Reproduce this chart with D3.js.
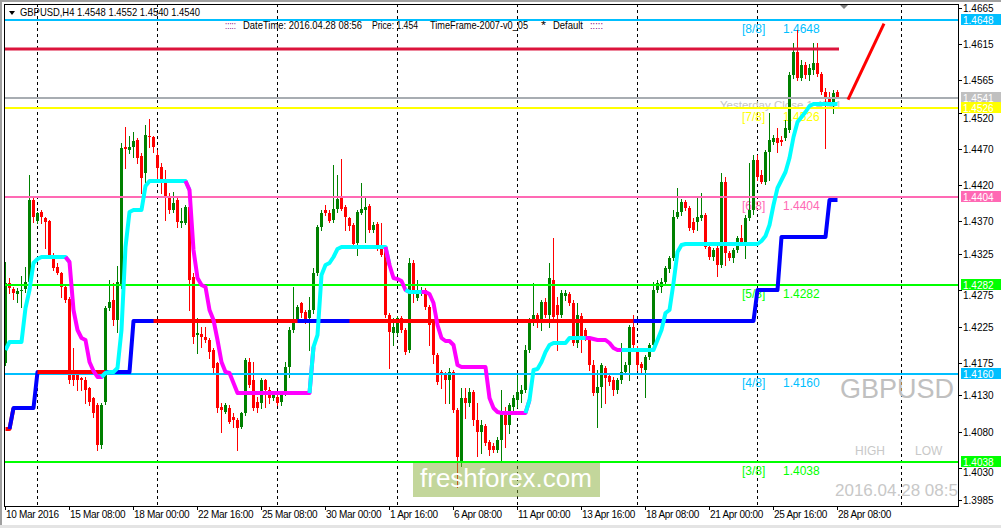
<!DOCTYPE html>
<html>
<head>
<meta charset="utf-8">
<script src="https://cdn.jsdelivr.net/npm/d3@7"></script>
<style>
  html, body { margin: 0; padding: 0; background: #fff; }
  svg { display: block; font-family: "Liberation Sans", Arial, sans-serif; }
</style>
</head>
<body>
<svg id="chart" width="1001" height="528"></svg>
<script>
"use strict";

// Data: GBPUSD H4, 10 Mar 16:00 .. 28 Apr 08:00 ///////////
var opens = [
  1.4175,1.4285,1.4277,1.4270,1.4274,1.4277,1.4286,1.4400,1.4371,1.4383,
  1.4375,1.4371,1.4321,1.4307,1.4299,1.4280,1.4263,1.4158,1.4158,1.4154,
  1.4151,1.4140,1.4126,1.4117,1.4062,1.4121,1.4251,1.4262,1.4234,1.4282,
  1.4473,1.4469,1.4473,1.4482,1.4460,1.4437,1.4488,1.4487,1.4462,1.4445,
  1.4427,1.4404,1.4386,1.4400,1.4368,1.4368,1.4390,1.4293,1.4213,1.4215,
  1.4211,1.4206,1.4193,1.4175,1.4114,1.4107,1.4113,1.4100,1.4096,1.4086,
  1.4106,1.4176,1.4151,1.4121,1.4119,1.4151,1.4137,1.4126,1.4128,1.4121,
  1.4133,1.4169,1.4220,1.4234,1.4257,1.4245,1.4237,1.4248,1.4299,1.4362,
  1.4386,1.4382,1.4372,1.4387,1.4402,1.4390,1.4375,1.4365,1.4340,1.4382,
  1.4386,1.4391,1.4358,1.4366,1.4338,1.4331,1.4241,1.4216,1.4216,1.4237,
  1.4220,1.4193,1.4313,1.4264,1.4271,1.4275,1.4252,1.4230,1.4186,1.4162,
  1.4158,1.4151,1.4162,1.4110,1.4038,1.4126,1.4119,1.4135,1.4096,1.4079,
  1.4088,1.4066,1.4060,1.4055,1.4068,1.4103,1.4089,1.4114,1.4124,1.4132,
  1.4137,1.4193,1.4230,1.4241,1.4234,1.4259,1.4241,1.4289,1.4255,1.4241,
  1.4267,1.4270,1.4257,1.4202,1.4240,1.4220,1.4206,1.4172,1.4133,1.4142,
  1.4168,1.4157,1.4151,1.4137,1.4151,1.4162,1.4172,1.4224,1.4195,1.4173,
  1.4165,1.4183,1.4200,1.4275,1.4280,1.4286,1.4304,1.4320,1.4376,1.4383,
  1.4397,1.4389,1.4369,1.4369,1.4375,1.4379,1.4335,1.4321,1.4333,1.4310,
  1.4424,1.4326,1.4320,1.4331,1.4347,1.4340,1.4375,1.4386,1.4455,1.4434,
  1.4424,1.4466,1.4480,1.4485,1.4482,1.4485,1.4496,1.4572,1.4604,1.4568,
  1.4586,1.4572,1.4579,1.4589,1.4573,1.4549,1.4540,1.4533,1.4548
];
var highs = [
  1.4314,1.4292,1.4280,1.4278,1.4295,1.4307,1.4434,1.4404,1.4383,1.4386,
  1.4376,1.4372,1.4326,1.4313,1.4300,1.4282,1.4266,1.4195,1.4165,1.4155,
  1.4155,1.4142,1.4128,1.4119,1.4119,1.4253,1.4289,1.4285,1.4309,1.4478,
  1.4500,1.4488,1.4493,1.4485,1.4464,1.4503,1.4511,1.4488,1.4469,1.4451,
  1.4441,1.4409,1.4411,1.4404,1.4389,1.4393,1.4393,1.4299,1.4237,1.4224,
  1.4224,1.4209,1.4195,1.4176,1.4119,1.4119,1.4117,1.4106,1.4099,1.4107,
  1.4182,1.4182,1.4176,1.4128,1.4154,1.4153,1.4142,1.4135,1.4131,1.4133,
  1.4176,1.4224,1.4280,1.4255,1.4259,1.4248,1.4266,1.4306,1.4365,1.4386,
  1.4393,1.4386,1.4448,1.4434,1.4456,1.4393,1.4376,1.4368,1.4386,1.4423,
  1.4402,1.4394,1.4369,1.4369,1.4368,1.4333,1.4244,1.4237,1.4240,1.4240,
  1.4223,1.4320,1.4317,1.4289,1.4280,1.4278,1.4255,1.4231,1.4188,1.4165,
  1.4162,1.4168,1.4165,1.4113,1.4140,1.4140,1.4140,1.4137,1.4119,1.4096,
  1.4091,1.4068,1.4064,1.4073,1.4137,1.4114,1.4119,1.4131,1.4158,1.4144,
  1.4200,1.4237,1.4285,1.4244,1.4262,1.4264,1.4313,1.4347,1.4266,1.4275,
  1.4275,1.4273,1.4262,1.4257,1.4244,1.4223,1.4211,1.4179,1.4165,1.4175,
  1.4171,1.4161,1.4155,1.4154,1.4202,1.4176,1.4227,1.4241,1.4198,1.4176,
  1.4186,1.4202,1.4286,1.4289,1.4292,1.4309,1.4322,1.4386,1.4416,1.4401,
  1.4400,1.4391,1.4375,1.4404,1.4409,1.4382,1.4338,1.4333,1.4338,1.4437,
  1.4431,1.4329,1.4333,1.4350,1.4365,1.4379,1.4451,1.4462,1.4462,1.4441,
  1.4469,1.4520,1.4489,1.4499,1.4488,1.4510,1.4576,1.4616,1.4634,1.4593,
  1.4590,1.4587,1.4616,1.4616,1.4576,1.4554,1.4549,1.4551,1.4552
];
var lows = [
  1.4172,1.4271,1.4263,1.4259,1.4252,1.4273,1.4285,1.4369,1.4368,1.4368,
  1.4333,1.4320,1.4303,1.4298,1.4266,1.4259,1.4147,1.4144,1.4137,1.4137,
  1.4119,1.4117,1.4100,1.4055,1.4057,1.4118,1.4248,1.4227,1.4217,1.4278,
  1.4444,1.4464,1.4459,1.4451,1.4409,1.4424,1.4473,1.4466,1.4427,1.4409,
  1.4372,1.4382,1.4383,1.4362,1.4362,1.4366,1.4248,1.4202,1.4188,1.4197,
  1.4204,1.4182,1.4162,1.4107,1.4079,1.4106,1.4092,1.4086,1.4055,1.4085,
  1.4103,1.4142,1.4110,1.4107,1.4113,1.4114,1.4119,1.4124,1.4117,1.4117,
  1.4131,1.4155,1.4217,1.4231,1.4238,1.4230,1.4193,1.4244,1.4296,1.4358,
  1.4379,1.4369,1.4369,1.4383,1.4386,1.4358,1.4358,1.4336,1.4324,1.4380,
  1.4342,1.4355,1.4355,1.4331,1.4322,1.4238,1.4168,1.4200,1.4213,1.4217,
  1.4187,1.4190,1.4259,1.4262,1.4269,1.4249,1.4200,1.4175,1.4146,1.4140,
  1.4119,1.4119,1.4107,1.4004,1.4032,1.4099,1.4115,1.4089,1.4046,1.4050,
  1.4062,1.4048,1.4052,1.4052,1.4039,1.4059,1.4078,1.4110,1.4114,1.4121,
  1.4135,1.4190,1.4227,1.4224,1.4220,1.4238,1.4224,1.4234,1.4193,1.4238,
  1.4262,1.4255,1.4200,1.4197,1.4190,1.4206,1.4165,1.4131,1.4086,1.4114,
  1.4119,1.4144,1.4131,1.4133,1.4147,1.4160,1.4151,1.4197,1.4165,1.4161,
  1.4128,1.4180,1.4197,1.4273,1.4273,1.4284,1.4300,1.4317,1.4375,1.4379,
  1.4386,1.4358,1.4355,1.4358,1.4372,1.4333,1.4318,1.4317,1.4295,1.4307,
  1.4310,1.4317,1.4314,1.4328,1.4339,1.4320,1.4372,1.4380,1.4427,1.4423,
  1.4422,1.4427,1.4477,1.4466,1.4476,1.4482,1.4493,1.4568,1.4565,1.4565,
  1.4568,1.4565,1.4573,1.4571,1.4546,1.4471,1.4531,1.4520,1.4540
];
var closes = [
  1.4285,1.4278,1.4271,1.4274,1.4275,1.4286,1.4400,1.4376,1.4382,1.4376,
  1.4369,1.4321,1.4306,1.4299,1.4280,1.4262,1.4151,1.4151,1.4151,1.4151,
  1.4137,1.4121,1.4106,1.4062,1.4117,1.4251,1.4259,1.4234,1.4286,1.4471,
  1.4470,1.4473,1.4481,1.4458,1.4430,1.4489,1.4487,1.4473,1.4444,1.4427,
  1.4404,1.4386,1.4395,1.4369,1.4371,1.4390,1.4289,1.4211,1.4216,1.4211,
  1.4206,1.4190,1.4168,1.4113,1.4110,1.4117,1.4093,1.4096,1.4085,1.4106,
  1.4179,1.4144,1.4113,1.4113,1.4151,1.4137,1.4126,1.4133,1.4119,1.4131,
  1.4169,1.4220,1.4234,1.4252,1.4244,1.4234,1.4248,1.4299,1.4362,1.4382,
  1.4382,1.4371,1.4387,1.4401,1.4387,1.4376,1.4364,1.4339,1.4383,1.4387,
  1.4390,1.4358,1.4365,1.4335,1.4324,1.4241,1.4217,1.4224,1.4237,1.4220,
  1.4190,1.4313,1.4271,1.4275,1.4275,1.4252,1.4227,1.4186,1.4148,1.4158,
  1.4151,1.4162,1.4110,1.4045,1.4126,1.4119,1.4135,1.4096,1.4079,1.4089,
  1.4064,1.4055,1.4055,1.4068,1.4106,1.4089,1.4117,1.4126,1.4135,1.4137,
  1.4193,1.4231,1.4241,1.4234,1.4259,1.4241,1.4292,1.4238,1.4241,1.4271,
  1.4271,1.4257,1.4202,1.4241,1.4206,1.4211,1.4172,1.4133,1.4142,1.4172,
  1.4154,1.4148,1.4137,1.4151,1.4162,1.4172,1.4224,1.4200,1.4172,1.4168,
  1.4183,1.4200,1.4275,1.4285,1.4286,1.4306,1.4320,1.4376,1.4383,1.4397,
  1.4389,1.4361,1.4358,1.4376,1.4379,1.4335,1.4321,1.4331,1.4310,1.4424,
  1.4326,1.4320,1.4331,1.4347,1.4340,1.4375,1.4386,1.4455,1.4431,1.4424,
  1.4466,1.4482,1.4485,1.4478,1.4480,1.4499,1.4572,1.4604,1.4568,1.4586,
  1.4572,1.4582,1.4589,1.4573,1.4549,1.4540,1.4533,1.4547,1.4540
];

// Trailing line (cyan while rising, magenta while falling)
var trendLine = [
  1.4193,1.4204,1.4204,1.4204,1.4204,1.4251,1.4275,1.4313,1.4318,1.4321,
  1.4321,1.4321,1.4321,1.4321,1.4321,1.4321,
  1.4314,1.4248,1.4220,1.4209,1.4206,1.4176,1.4164,1.4155,1.4155,
  1.4161,1.4162,1.4162,1.4168,1.4220,1.4335,1.4383,1.4386,1.4386,1.4386,1.4419,
  1.4426,1.4426,1.4426,1.4426,1.4426,1.4426,1.4426,1.4426,1.4426,1.4426,
  1.4413,1.4331,1.4292,1.4282,1.4280,1.4248,1.4234,1.4206,1.4176,1.4162,1.4161,1.4147,
  1.4133,1.4133,1.4133,1.4133,1.4133,1.4133,1.4133,1.4133,1.4133,1.4133,
  1.4133,1.4133,1.4133,1.4133,1.4133,1.4133,1.4133,1.4133,1.4133,
  1.4197,1.4213,1.4296,1.4310,1.4313,1.4321,1.4332,
  1.4335,1.4335,1.4335,1.4335,1.4335,1.4335,1.4335,1.4335,1.4335,1.4335,1.4335,1.4335,
  1.4310,1.4292,1.4291,1.4288,1.4275,
  1.4273,1.4273,1.4273,1.4273,1.4273,
  1.4270,1.4257,1.4227,1.4209,1.4205,1.4205,1.4200,1.4172,
  1.4169,1.4169,1.4169,1.4169,1.4169,1.4169,1.4169,
  1.4126,1.4113,1.4107,
  1.4106,1.4106,1.4106,1.4106,1.4106,1.4106,1.4106,
  1.4124,1.4165,1.4166,1.4176,1.4190,1.4200,
  1.4202,1.4202,1.4202,1.4202,
  1.4209,1.4209,1.4209,1.4209,1.4209,1.4209,
  1.4208,1.4206,1.4206,1.4206,1.4202,1.4195,
  1.4193,1.4193,1.4193,1.4193,1.4193,1.4193,1.4193,1.4193,1.4193,1.4193,
  1.4206,1.4220,1.4244,1.4248,1.4285,1.4328,1.4338,
  1.4339,1.4339,1.4339,1.4339,1.4339,1.4339,1.4339,1.4339,1.4339,1.4339,
  1.4339,1.4339,1.4339,1.4339,1.4339,1.4339,1.4339,1.4339,1.4339,
  1.4343,1.4350,1.4365,1.4393,1.4416,1.4427,1.4438,1.4458,1.4487,1.4507,1.4514,1.4521,1.4529,
  1.4532,1.4532,1.4532,1.4532,1.4532,1.4532,1.4532
];
var trendBreaks = [0, 16, 25, 46, 77, 96, 101, 105, 131, 146, 155];
var trendUp     = [true, false, true, false, true, false, true, false, true, false, true];

// Step level line (blue while rising, red otherwise)
var stepLevels = [1.4084, 1.4113, 1.4162, 1.4233, 1.4275, 1.4349, 1.4400];
var stepStarts = [0, 2, 8, 32, 188, 194, 206];
var stepBreaks = [0, 2, 9, 26, 38, 74, 87, 158];
var stepUp     = [false, true, false, true, false, true, false, true];

// Murrey math levels
var murreyPrices = [1.4648, 1.4526, 1.4404, 1.4282, 1.4160, 1.4038];
var murreyNames  = ["[8/8]", "[7/8]", "[6/8]", "[5/8]", "[4/8]", "[3/8]"];
var murreyColors = ["#00bfff", "#ffff00", "#ff69b4", "#00ff00", "#00bfff", "#00ff00"];

var dayHigh = 1.4608;
var yesterdayClose = 1.4541;
var projection = [[210.75, 1.4538], [219.75, 1.4643]];

// Axes
var priceTicks = [1.4665, 1.4615, 1.4565, 1.4520, 1.4470, 1.4420, 1.4370, 1.4325,
                  1.4275, 1.4225, 1.4175, 1.4130, 1.4080, 1.4030, 1.3985];
var timeTickBars = [0, 16, 32, 48, 64, 80, 96, 112, 128, 144, 160, 176, 192, 208];
var timeTickLabels = ["10 Mar 2016", "15 Mar 08:00", "18 Mar 00:00", "22 Mar 16:00",
  "25 Mar 08:00", "30 Mar 00:00", "1 Apr 16:00", "6 Apr 08:00", "11 Apr 00:00",
  "13 Apr 16:00", "18 Apr 08:00", "21 Apr 00:00", "25 Apr 16:00", "28 Apr 08:00"];
var weekBars = [8, 38, 68, 98, 128, 158, 188, 224];

////////////////////////////////////////////////////////////
var svg = d3.select("#chart"),
    plot = {left: 4, top: 4, right: 958, bottom: 506};

var x = d3.scaleLinear().domain([0, 238]).range([5, 957]);
var y = d3.scaleLinear().domain([1.4038, 1.4648]).range([462, 20]);

var px = function(i) { return Math.round(x(i)); };
var py = function(p) { return Math.round(y(p)); };

// Window frame
svg.append("rect").attr("width", 1001).attr("height", 528).attr("fill", "#fff");
svg.append("rect").attr("x", 0).attr("y", 0).attr("width", 1001).attr("height", 2).attr("fill", "#a0a0a0");
svg.append("rect").attr("x", 0).attr("y", 0).attr("width", 2).attr("height", 528).attr("fill", "#a0a0a0");
svg.append("rect").attr("x", 0).attr("y", 525).attr("width", 1001).attr("height", 3).attr("fill", "#e4e4e4");

svg.append("defs").append("clipPath").attr("id", "plotClip")
  .append("rect")
    .attr("x", plot.left).attr("y", plot.top)
    .attr("width", plot.right - plot.left).attr("height", plot.bottom - plot.top);

var g = svg.append("g").attr("clip-path", "url(#plotClip)");

// Week separators
g.selectAll(".sep").data(weekBars).enter().append("line")
    .attr("x1", function(d) { return px(d) + 0.5; })
    .attr("x2", function(d) { return px(d) + 0.5; })
    .attr("y1", plot.top).attr("y2", plot.bottom)
    .attr("stroke", "#000").attr("stroke-dasharray", "3,3");

// Background texts (candles and lines are drawn over them)
g.append("text").attr("x", 840).attr("y", 398)
  .attr("font-size", 27).attr("fill", "#c0c0c0").text("GBPUSD");
g.append("text").attr("x", 855).attr("y", 455)
  .attr("font-size", 12).attr("fill", "#c8c8c8").text("HIGH");
g.append("text").attr("x", 915).attr("y", 455)
  .attr("font-size", 12).attr("fill", "#c8c8c8").text("LOW");
g.append("text").attr("x", 835).attr("y", 496)
  .attr("font-size", 17).attr("fill", "#c8c8c8").text("2016.04.28 08:56");

murreyPrices.forEach(function(p, k) {
  g.append("text").attr("x", x(184.25)).attr("y", py(p) + 13)
    .attr("font-size", 12).attr("fill", murreyColors[k]).text(murreyNames[k]);
  g.append("text").attr("x", x(194.5)).attr("y", py(p) + 13)
    .attr("font-size", 12).attr("fill", murreyColors[k]).text(p.toFixed(4));
});
g.append("text").attr("x", 720).attr("y", 109)
  .attr("font-size", 11.5).attr("fill", "#c4c4c4").text("Yesterday Close " + yesterdayClose.toFixed(4));

// Candles
var bars = d3.range(opens.length).map(function(i) {
  return {i: i, o: opens[i], h: highs[i], l: lows[i], c: closes[i]};
});
var barColor = function(d) { return d.c >= d.o ? "#008000" : "#ff0000"; };

g.selectAll(".wick").data(bars).enter().append("line")
    .attr("x1", function(d) { return px(d.i) + 0.5; })
    .attr("x2", function(d) { return px(d.i) + 0.5; })
    .attr("y1", function(d) { return py(d.h); })
    .attr("y2", function(d) { return py(d.l) + 1; })
    .attr("stroke", barColor);

g.selectAll(".body").data(bars).enter().append("rect")
    .attr("x", function(d) { return px(d.i) - 1; })
    .attr("y", function(d) { return py(Math.max(d.o, d.c)); })
    .attr("width", 3)
    .attr("height", function(d) { return Math.max(1, py(Math.min(d.o, d.c)) - py(Math.max(d.o, d.c))); })
    .attr("fill", barColor);

// Coloured runs of a per-bar line
var drawRuns = function(values, breaks, up, upColor, downColor, width) {
  var line = d3.line()
      .x(function(i) { return px(i) + 0.5; })
      .y(function(i) { return py(values[i]); });
  breaks.forEach(function(s, k) {
    var e = k + 1 < breaks.length ? breaks[k + 1] : values.length - 1;
    var idx = d3.range(Math.max(s - 1, 0), e + 1);
    g.append("path").attr("d", line(idx))
      .attr("fill", "none")
      .attr("stroke", up[k] ? upColor : downColor)
      .attr("stroke-width", width)
      .attr("stroke-linejoin", "round");
  });
};

var stepValues = opens.map(function(o, i) {
  return stepLevels[d3.bisectRight(stepStarts, i) - 1];
});

// Horizontal levels
var hline = function(price, color, width, x2) {
  g.append("line")
    .attr("x1", plot.left).attr("x2", x2 || plot.right)
    .attr("y1", py(price)).attr("y2", py(price))
    .attr("stroke", color).attr("stroke-width", width);
};
hline(dayHigh, "#dc143c", 3, px(opens.length - 1) + 2);
murreyPrices.forEach(function(p, k) { hline(p, murreyColors[k], 2); });
hline(yesterdayClose, "#a8adb2", 2);

drawRuns(stepValues, stepBreaks, stepUp, "#0000ff", "#ff0000", 4);
drawRuns(trendLine, trendBreaks, trendUp, "#00ffff", "#ff00ff", 4);

// Projection
g.append("line")
    .attr("x1", x(projection[0][0])).attr("y1", y(projection[0][1]))
    .attr("x2", x(projection[1][0])).attr("y2", y(projection[1][1]))
    .attr("stroke", "#ff0000").attr("stroke-width", 3);

// Header
svg.append("path").attr("d", "M9,11 L15,11 L12,15 Z").attr("fill", "#000");
svg.append("text").attr("x", 20).attr("y", 16).attr("font-size", 10.5).attr("fill", "#000")
  .attr("textLength", 180).attr("lengthAdjust", "spacingAndGlyphs")
  .text("GBPUSD,H4  " + [opens[208], highs[208], lows[208], closes[208]].map(function(v) { return v.toFixed(4); }).join(" "));

var infoParts = [
  {x: 225, w: 11,  c: "#800080", t: ":::::"},
  {x: 243, w: 119, c: "#000",    t: "DateTime: 2016.04.28 08:56"},
  {x: 372, w: 46,  c: "#000",    t: "Price: 1.454"},
  {x: 430, w: 98,  c: "#000",    t: "TimeFrame-2007-v0_05"},
  {x: 541, w: 5,   c: "#000",    t: "*"},
  {x: 553, w: 30,  c: "#000",    t: "Default"},
  {x: 590, w: 13,  c: "#800080", t: ":::::"}
];
infoParts.forEach(function(d) {
  svg.append("text").attr("x", d.x).attr("y", 29).attr("font-size", 10.5)
    .attr("fill", d.c).attr("textLength", d.w).attr("lengthAdjust", "spacingAndGlyphs")
    .text(d.t);
});

// Shift marker
svg.append("path").attr("d", "M840,5 L848,5 L844,9 Z").attr("fill", "#808080");

// freshforex badge
svg.append("rect").attr("x", 413).attr("y", 463).attr("width", 187).attr("height", 34)
  .attr("fill", "rgba(135,173,55,0.5)");
svg.append("text").attr("x", 420).attr("y", 487).attr("font-size", 26).attr("fill", "#fff")
  .text("freshforex.com");

// Plot border
svg.append("rect")
    .attr("x", plot.left + 0.5).attr("y", plot.top + 0.5)
    .attr("width", plot.right - plot.left).attr("height", plot.bottom - plot.top)
    .attr("fill", "none").attr("stroke", "#000");

// Level tags on the price axis
var tags = [
  {p: murreyPrices[0], c: murreyColors[0]},
  {p: yesterdayClose, c: "#c0c0c0"},
  {p: murreyPrices[1], c: murreyColors[1]},
  {p: murreyPrices[2], c: murreyColors[2]},
  {p: murreyPrices[3], c: murreyColors[3]},
  {p: murreyPrices[4], c: murreyColors[4]},
  {p: murreyPrices[5], c: murreyColors[5]}
];

// Price axis (a tick label hidden under a tag is pushed just below it)
var pa = svg.append("g");
priceTicks.forEach(function(p) {
  var base = py(p) + 4;
  tags.forEach(function(t) {
    var top = py(t.p) - 6, bottom = py(t.p) + 5;
    if (base > top && base - 8 < bottom) { base = bottom + 9; }
  });
  pa.append("line").attr("x1", plot.right).attr("x2", plot.right + 4)
    .attr("y1", py(p) + 0.5).attr("y2", py(p) + 0.5).attr("stroke", "#000");
  pa.append("text").attr("x", 963).attr("y", base)
    .attr("font-size", 10).attr("fill", "#000").text(p.toFixed(4));
});

tags.forEach(function(t) {
  pa.append("rect").attr("x", 961).attr("y", py(t.p) - 6).attr("width", 40).attr("height", 11)
    .attr("fill", t.c);
  pa.append("text").attr("x", 963).attr("y", py(t.p) + 4)
    .attr("font-size", 10).attr("fill", "#fff").text(t.p.toFixed(4));
});

// Time axis
var ta = svg.append("g");
timeTickBars.forEach(function(b, k) {
  ta.append("line").attr("x1", px(b) + 0.5).attr("x2", px(b) + 0.5)
    .attr("y1", plot.bottom).attr("y2", plot.bottom + 4).attr("stroke", "#000");
  ta.append("text").attr("x", px(b) + 1).attr("y", 518)
    .attr("font-size", 10).attr("letter-spacing", -0.3).attr("fill", "#000").text(timeTickLabels[k]);
});
</script>
</body>
</html>
